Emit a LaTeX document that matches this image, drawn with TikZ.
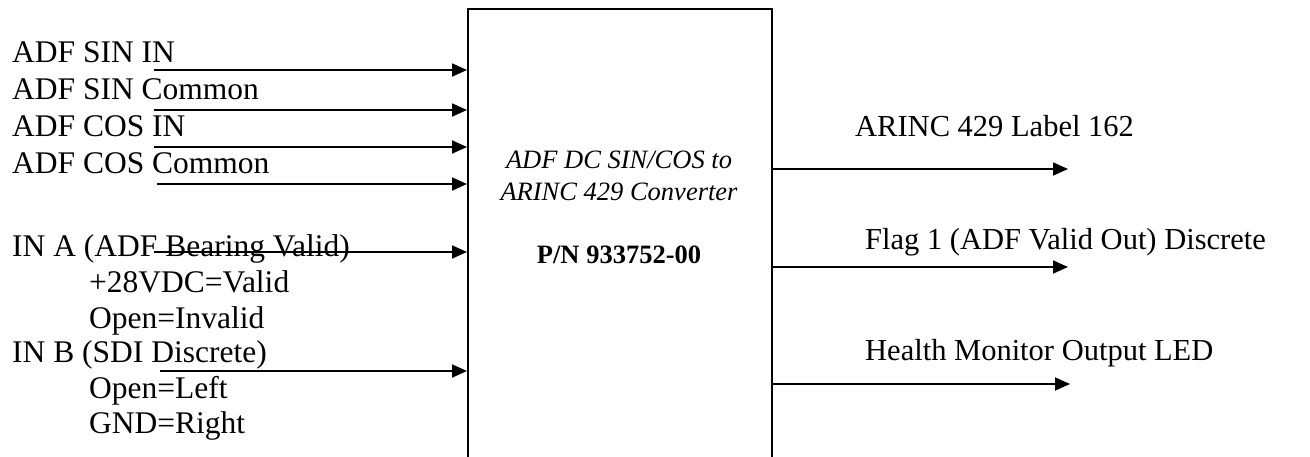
\documentclass[tikz,border=0pt]{standalone}
\usepackage{fontspec}
\setmainfont{Liberation Serif}
\usetikzlibrary{arrows.meta}
\tikzset{
  lbl/.style={anchor=base west, inner sep=0pt, font=\fontsize{31.5}{36}\selectfont},
  rlbl/.style={anchor=base west, inner sep=0pt, font=\fontsize{30.5}{36}\selectfont},
  ctr/.style={anchor=base, inner sep=0pt, font=\fontsize{26.5}{32}\selectfont},
  conn/.style={line width=1.8pt, -{Triangle[length=15pt,width=13pt]}},
  unit/.style={draw, line width=2pt, minimum width=304pt, minimum height=480pt, inner sep=0pt, anchor=north west}
}
\begin{document}
\begin{tikzpicture}[x=1pt,y=-1pt]
\clip (0,0) rectangle (1310,456);
\node[unit] (box) at (467,8) {};
% left labels
\node[lbl] (l1) at (12,62) {ADF SIN IN};
\node[lbl] (l2) at (12,99) {ADF SIN Common};
\node[lbl] (l3) at (12,136) {ADF COS IN};
\node[lbl] (l4) at (12,173) {ADF COS Common};
\node[lbl] (l5) at (12,256) {IN A (ADF Bearing Valid)};
\node[lbl] (l6) at (89,292) {+28VDC=Valid};
\node[lbl] (l7) at (89,328) {Open=Invalid};
\node[lbl] (l8) at (12,362) {IN B (SDI Discrete)};
\node[lbl] (l9) at (89,398) {Open=Left};
\node[lbl] (l10) at (89,433) {GND=Right};
% centre text
\node[ctr] (c1) at (619,168) {\itshape ADF DC SIN/COS to};
\node[ctr] (c2) at (619,200) {\itshape ARINC 429 Converter};
\node[ctr] (c3) at (619,263) {\bfseries P/N 933752-00};
% right labels
\node[rlbl] (r1) at (855,136) {ARINC 429 Label 162};
\node[rlbl] (r2) at (865,249) {Flag 1 (ADF Valid Out) Discrete};
\node[rlbl] (r3) at (865,360) {Health Monitor Output LED};
% input start points
\coordinate (i1) at (154,70);
\coordinate (i2) at (154,110);
\coordinate (i3) at (154,147);
\coordinate (i4) at (157,184);
\coordinate (i5) at (154,252);
\coordinate (i6) at (160,371);
\foreach \i in {1,...,6} {\draw[conn] (i\i) -- (box.west |- i\i);}
% outputs
\coordinate (o1) at (1068,169);
\coordinate (o2) at (1068,267);
\coordinate (o3) at (1070,384);
\foreach \i in {1,2,3} {\draw[conn] (box.east |- o\i) -- (o\i);}
\end{tikzpicture}
\end{document}
